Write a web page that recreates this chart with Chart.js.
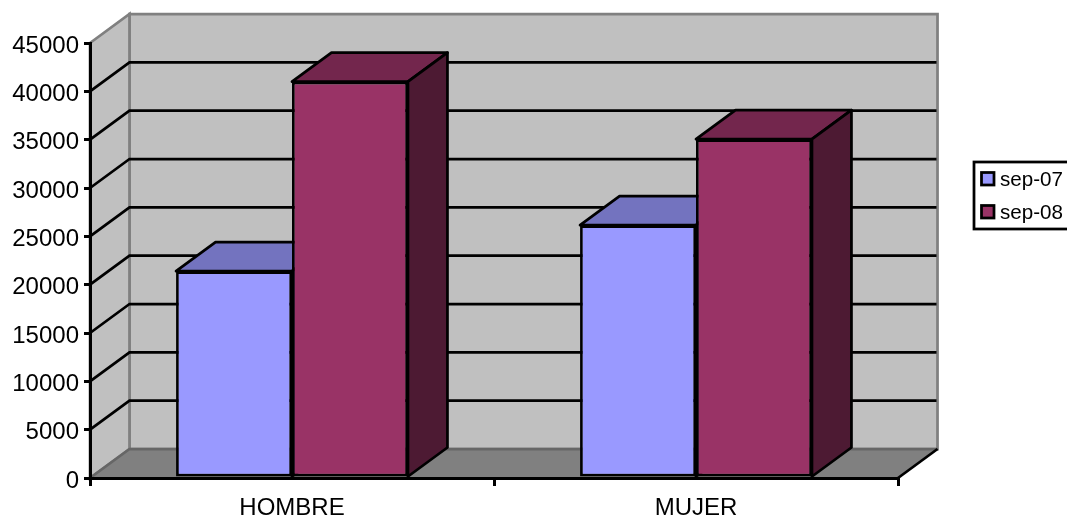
<!DOCTYPE html>
<html>
<head>
<meta charset="utf-8">
<title>sep-07 / sep-08</title>
<script src="https://cdn.jsdelivr.net/npm/chart.js@4"></script>
<style>
    html, body { margin: 0; padding: 0; background: #fff; overflow: hidden; }
    canvas { display: block; }
</style>
</head>
<body>
<canvas id="chart" width="1067" height="518"></canvas>
<script>
// ===== DATA =====
const categories = ['HOMBRE', 'MUJER'];
const seriesNames = ['sep-07', 'sep-08'];
const sep07 = [21400, 26150];
const sep08 = [41000, 35050];
const yTicks = [0, 5000, 10000, 15000, 20000, 25000, 30000, 35000, 40000, 45000];

// ===== STYLE =====
const FONT = '"Liberation Sans", Arial, sans-serif';
const frontColors = ['#9999FF', '#993366'];
const topColors = ['#7373BF', '#73264D'];
const sideColors = ['#3D3D66', '#4D1A33'];
const DEPTH_X = 39.5;   // 3d offset of the back wall
const DEPTH_Y = 29;
const LINE = 2.75;

function path(ctx, pts) {
    ctx.beginPath();
    pts.forEach((p, i) => i ? ctx.lineTo(p[0], p[1]) : ctx.moveTo(p[0], p[1]));
    ctx.closePath();
}

// walls, floor and the grid lines behind the bars
const roomPlugin = {
    id: 'room',
    beforeDraw(chart) {
        const { ctx, chartArea: a, scales } = chart;
        const bl = [a.left + DEPTH_X, a.bottom - DEPTH_Y];
        const tl = [a.left + DEPTH_X, a.top - DEPTH_Y];
        const br = [a.right + DEPTH_X, a.bottom - DEPTH_Y];
        const tr = [a.right + DEPTH_X, a.top - DEPTH_Y];
        ctx.save();
        ctx.lineJoin = 'miter';

        // back wall + left wall
        ctx.fillStyle = '#C0C0C0';
        ctx.strokeStyle = '#808080';
        ctx.lineWidth = LINE;
        path(ctx, [tl, tr, br, bl]);
        ctx.fill();
        ctx.stroke();
        path(ctx, [[a.left, a.top], tl, bl, [a.left, a.bottom]]);
        ctx.fill();
        ctx.stroke();

        // floor
        ctx.fillStyle = '#808080';
        ctx.strokeStyle = '#666666';
        path(ctx, [[a.left, a.bottom], bl, br, [a.right, a.bottom]]);
        ctx.fill();
        ctx.beginPath();
        ctx.moveTo(a.left, a.bottom);
        ctx.lineTo(bl[0], bl[1]);
        ctx.lineTo(br[0], br[1]);
        ctx.stroke();

        // grid lines
        ctx.strokeStyle = '#000';
        ctx.lineWidth = LINE;
        yTicks.forEach(v => {
            if (v === 0 || v === yTicks[yTicks.length - 1]) return;
            const y = scales.y.getPixelForValue(v);
            ctx.beginPath();
            ctx.moveTo(a.left, y);
            ctx.lineTo(a.left + DEPTH_X, y - DEPTH_Y);
            ctx.lineTo(a.right + DEPTH_X - 1, y - DEPTH_Y);
            ctx.stroke();
        });

        // right edge of the floor
        ctx.beginPath();
        ctx.moveTo(a.right, a.bottom);
        ctx.lineTo(br[0], br[1]);
        ctx.stroke();
        ctx.restore();
    },
    // top and side faces go under the front faces
    beforeDatasetsDraw(chart) {
        const { ctx } = chart;
        ctx.save();
        ctx.strokeStyle = '#000';
        ctx.lineWidth = LINE;
        ctx.lineJoin = 'round';
        chart.data.datasets.forEach((ds, i) => {
            chart.getDatasetMeta(i).data.forEach(bar => {
                const l = bar.x - bar.width / 2;
                const r = bar.x + bar.width / 2;
                path(ctx, [[l, bar.y], [l + DEPTH_X, bar.y - DEPTH_Y], [r + DEPTH_X, bar.y - DEPTH_Y], [r, bar.y]]);
                ctx.fillStyle = topColors[i];
                ctx.fill();
                ctx.stroke();
                path(ctx, [[r, bar.y], [r + DEPTH_X, bar.y - DEPTH_Y], [r + DEPTH_X, bar.base - DEPTH_Y], [r, bar.base]]);
                ctx.fillStyle = sideColors[i];
                ctx.fill();
                ctx.stroke();
            });
        });
        ctx.restore();
    },
    // legend box, runs off the right edge like the original
    afterDraw(chart) {
        const { ctx } = chart;
        ctx.save();
        ctx.fillStyle = '#fff';
        ctx.strokeStyle = '#000';
        ctx.lineWidth = LINE;
        ctx.fillRect(974, 162, 100, 67);
        ctx.strokeRect(974, 162, 100, 67);
        ctx.font = '20.6px ' + FONT;
        ctx.textBaseline = 'middle';
        seriesNames.forEach((name, i) => {
            const y = 179 + i * 33;
            ctx.fillStyle = frontColors[i];
            ctx.fillRect(981.5, y - 6.5, 12.5, 12.5);
            ctx.strokeRect(981.5, y - 6.5, 12.5, 12.5);
            ctx.fillStyle = '#000';
            ctx.fillText(name, 1000, y + 1);
        });
        ctx.restore();
    }
};

new Chart(document.getElementById('chart'), {
    type: 'bar',
    plugins: [roomPlugin],
    data: {
        labels: categories,
        datasets: [
            { label: seriesNames[0], data: sep07, backgroundColor: frontColors[0] },
            { label: seriesNames[1], data: sep08, backgroundColor: frontColors[1] }
        ]
    },
    options: {
        responsive: false,
        animation: false,
        devicePixelRatio: 1,
        layout: { padding: { top: 43, right: 169, left: 0, bottom: 0 } },
        datasets: {
            bar: {
                categoryPercentage: 0.574,
                barPercentage: 1,
                borderColor: '#000',
                borderWidth: LINE,
                borderSkipped: false
            }
        },
        plugins: {
            legend: { display: false },
            tooltip: { enabled: false }
        },
        scales: {
            x: {
                afterFit(scale) { scale.height = 40; },
                border: { color: '#000', width: 3 },
                grid: { drawOnChartArea: false, color: '#000', lineWidth: 3, tickLength: 8 },
                ticks: { color: '#000', font: { family: FONT, size: 24 }, padding: 8, maxRotation: 0 }
            },
            y: {
                min: 0,
                max: 45000,
                afterFit(scale) { scale.width = 90; },
                afterBuildTicks(scale) { scale.ticks = yTicks.map(v => ({ value: v })); },
                border: { color: '#000', width: 3 },
                grid: { drawOnChartArea: false, color: '#000', lineWidth: 3, tickLength: 6 },
                ticks: { color: '#000', font: { family: FONT, size: 24 }, padding: 5, labelOffset: 3, callback: v => String(v) }
            }
        }
    }
});
</script>
</body>
</html>
